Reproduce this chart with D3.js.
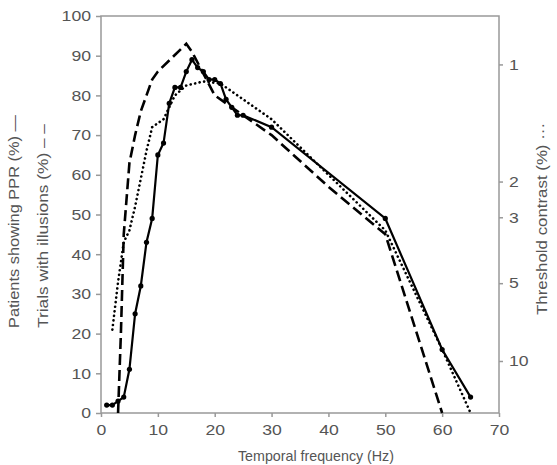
<!DOCTYPE html>
<html>
<head>
<meta charset="utf-8">
<script src="https://cdn.jsdelivr.net/npm/d3@7"></script>
<style>
  body { margin: 0; background: #fff; }
  svg { display: block; font-family: "Liberation Sans", Arial, sans-serif; }
</style>
</head>
<body>
<svg id="chart" width="557" height="465"></svg>
<script>
// frequency (Hz) and % patients with PPR (solid)
const freqPPR = [1, 2, 3, 4, 5, 6, 7, 8, 9, 10, 11, 12, 13, 14, 15, 16, 17, 18, 19, 20, 21, 22, 23, 24, 25, 30, 50, 60, 65];
const ppr = [2, 2, 3, 4, 11, 25, 32, 43, 49, 65, 68, 78, 82, 82, 86, 89, 87, 86, 84, 84, 83, 79, 77, 75, 75, 72, 49, 16, 4];

// trials with illusions (dashed)
const freqIll = [3, 3.5, 4, 5, 6, 7, 8, 9, 10, 15, 16, 20, 30, 40, 50, 60];
const illusions = [0, 20, 45, 63, 70, 76, 80, 84, 86, 93, 91, 80, 70, 57, 45, 0];

// threshold contrast (dotted), read in left-axis units
const freqThr = [2, 3, 4, 5, 6, 7, 8, 9, 11, 13, 15, 18, 21, 30, 40, 50, 60, 65];
const threshold = [21, 33, 43, 46, 52, 59, 66, 72, 74, 80, 82.5, 83.5, 83, 74, 60, 46, 16, 0];

const xTicks = [0, 10, 20, 30, 40, 50, 60, 70];
const yTicks = [0, 10, 20, 30, 40, 50, 60, 70, 80, 90, 100];
// right axis: contrast ticks and where they sit on the left scale
const rTicks = [1, 2, 3, 5, 10];
const rTickPos = [87.8, 58.3, 49.3, 32.7, 13.1];

const svg = d3.select("#chart");
const margin = {top: 16, right: 58, bottom: 52, left: 101};
const W = 557, H = 465;
const gray = "#999";
const txt = "#555";

const x = d3.scaleLinear().domain([0, 70]).range([margin.left, W - margin.right]);
const y = d3.scaleLinear().domain([0, 100]).range([H - margin.bottom, margin.top]);
const yR = d3.scaleLinear().domain(rTicks).range(rTickPos.map(v => y(v)));

// frame
svg.append("rect")
  .attr("x", x(0)).attr("y", y(100))
  .attr("width", x(70) - x(0)).attr("height", y(0) - y(100))
  .attr("fill", "none").attr("stroke", gray).attr("stroke-width", 1.5);

// tick labels in the original are wide, so stretch them a bit
const styleAxis = g => {
  g.select(".domain").remove();
  g.selectAll("line").attr("stroke", gray).attr("stroke-width", 1.5);
  g.selectAll("text")
    .attr("fill", txt).attr("font-size", 15)
    .attr("textLength", function() { return this.textContent.length * 9.8; })
    .attr("lengthAdjust", "spacingAndGlyphs");
};

svg.append("g")
  .attr("transform", `translate(0,${y(0)})`)
  .call(d3.axisBottom(x).tickValues(xTicks).tickSize(4).tickPadding(7))
  .call(styleAxis);

svg.append("g")
  .attr("transform", `translate(${x(0)},0)`)
  .call(d3.axisLeft(y).tickValues(yTicks).tickSize(5).tickPadding(5))
  .call(styleAxis);

svg.append("g")
  .attr("transform", `translate(${x(70)},0)`)
  .call(d3.axisRight(yR).tickValues(rTicks).tickSize(4).tickPadding(6))
  .call(styleAxis);

// lines
const line = d3.line().x(d => x(d[0])).y(d => y(d[1]));

svg.append("path")
  .datum(d3.zip(freqThr, threshold))
  .attr("d", line)
  .attr("fill", "none").attr("stroke", "#000")
  .attr("stroke-width", 2.6).attr("stroke-linecap", "round")
  .attr("stroke-dasharray", "0.1,4.5");

svg.append("path")
  .datum(d3.zip(freqIll, illusions))
  .attr("d", line)
  .attr("fill", "none").attr("stroke", "#000")
  .attr("stroke-width", 2.6)
  .attr("stroke-dasharray", "11,5");

svg.append("path")
  .datum(d3.zip(freqPPR, ppr))
  .attr("d", line)
  .attr("fill", "none").attr("stroke", "#000")
  .attr("stroke-width", 2.2);

svg.append("g").selectAll("circle")
  .data(d3.zip(freqPPR, ppr))
  .join("circle")
  .attr("cx", d => x(d[0])).attr("cy", d => y(d[1]))
  .attr("r", 2.6).attr("fill", "#000");

// titles
const title = (tr, len, s) => svg.append("text")
  .attr("transform", tr)
  .attr("font-size", 15).attr("fill", txt)
  .attr("textLength", len).attr("lengthAdjust", "spacingAndGlyphs")
  .text(s);

title(`translate(238,461)`, 156, "Temporal frequency (Hz)");
title(`translate(19,328) rotate(-90)`, 213, "Patients showing PPR (%) —");
title(`translate(48,328) rotate(-90)`, 204, "Trials with illusions (%) – –");
title(`translate(547,315) rotate(-90)`, 192, "Threshold contrast (%) \u00b7\u00b7\u00b7");
</script>
</body>
</html>
